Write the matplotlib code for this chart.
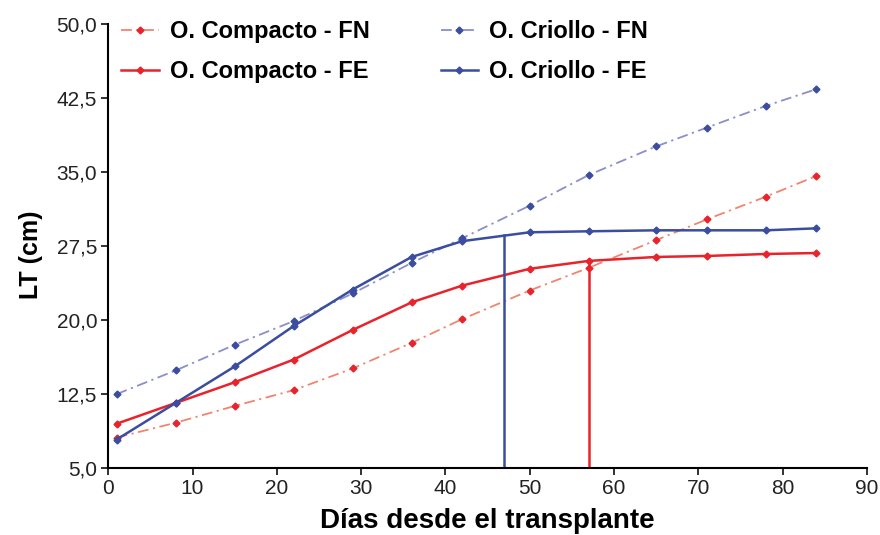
import matplotlib
matplotlib.use("Agg")
import matplotlib.pyplot as plt
from matplotlib.ticker import FuncFormatter

plt.rcParams["font.family"] = ["Liberation Sans", "DejaVu Sans"]

dias = [1, 8, 15, 22, 29, 36, 42, 50, 57, 65, 71, 78, 84]
compacto_fn = [8.1, 9.6, 11.3, 12.9, 15.1, 17.7, 20.1, 23.0, 25.3, 28.1, 30.2, 32.5, 34.6]
compacto_fe = [9.5, 11.6, 13.7, 16.0, 19.0, 21.8, 23.5, 25.2, 26.0, 26.4, 26.5, 26.7, 26.8]
criollo_fn = [12.5, 14.9, 17.5, 19.9, 22.7, 25.8, 28.3, 31.6, 34.7, 37.6, 39.5, 41.7, 43.4]
criollo_fe = [7.9, 11.6, 15.3, 19.4, 23.1, 26.4, 28.0, 28.9, 29.0, 29.1, 29.1, 29.1, 29.3]
corte_criollo = (47, 28.6)
corte_compacto = (57, 26.0)

RED = "#e8232b"
RED_LIGHT = "#f2846e"
BLUE = "#3a4d9f"
BLUE_LIGHT = "#8a8fc8"
DASHDOT = (0, (6, 2.5, 1.2, 2.5))

fig = plt.figure(figsize=(8.8, 5.35), dpi=100)
ax = fig.add_axes([0.123, 0.125, 0.862, 0.83])

ax.plot(dias, compacto_fn, ls=DASHDOT, color=RED_LIGHT, lw=1.3,
        marker="D", ms=3.5, mfc=RED, mec=RED, label="O. Compacto - FN")
ax.plot(dias, compacto_fe, ls="-", color=RED, lw=1.8,
        marker="D", ms=3.5, mfc=RED, mec=RED, label="O. Compacto - FE")
ax.plot(dias, criollo_fn, ls=DASHDOT, color=BLUE_LIGHT, lw=1.3,
        marker="D", ms=3.5, mfc=BLUE, mec=BLUE, label="O. Criollo - FN")
ax.plot(dias, criollo_fe, ls="-", color=BLUE, lw=1.8,
        marker="D", ms=3.5, mfc=BLUE, mec=BLUE, label="O. Criollo - FE")

ax.plot([corte_criollo[0]] * 2, [5, corte_criollo[1]], color=BLUE, lw=1.8)
ax.plot([corte_compacto[0]] * 2, [5, corte_compacto[1]], color=RED, lw=1.8)

ax.set_xlim(0, 90)
ax.set_ylim(5, 50)
ax.set_xticks(range(0, 91, 10))
ax.set_yticks([5, 12.5, 20, 27.5, 35, 42.5, 50])
ax.yaxis.set_major_formatter(FuncFormatter(lambda v, p: f"{v:.1f}".replace(".", ",")))
ax.spines["top"].set_visible(False)
ax.spines["right"].set_visible(False)
for s in ("left", "bottom"):
    ax.spines[s].set_linewidth(1.5)
ax.tick_params(direction="out", length=5, width=1.3, labelsize=15, colors="#222222", pad=3)

ax.set_xlabel("Días desde el transplante", fontsize=20, fontweight="bold", va="top")
ax.xaxis.set_label_coords(0.5, -0.09)
ax.set_ylabel("LT (cm)", fontsize=18, fontweight="bold", va="center")
ax.yaxis.set_label_coords(-0.102, 0.48)

leg = ax.legend(ncol=2, loc="upper left", bbox_to_anchor=(0.138, 0.962),
                bbox_transform=fig.transFigure, frameon=False, borderpad=0,
                borderaxespad=0, prop={"size": 17, "weight": "bold"},
                handlelength=1.6, handletextpad=0.45, columnspacing=3.0,
                labelspacing=0.72)

fig.savefig("out.png", dpi=100)
